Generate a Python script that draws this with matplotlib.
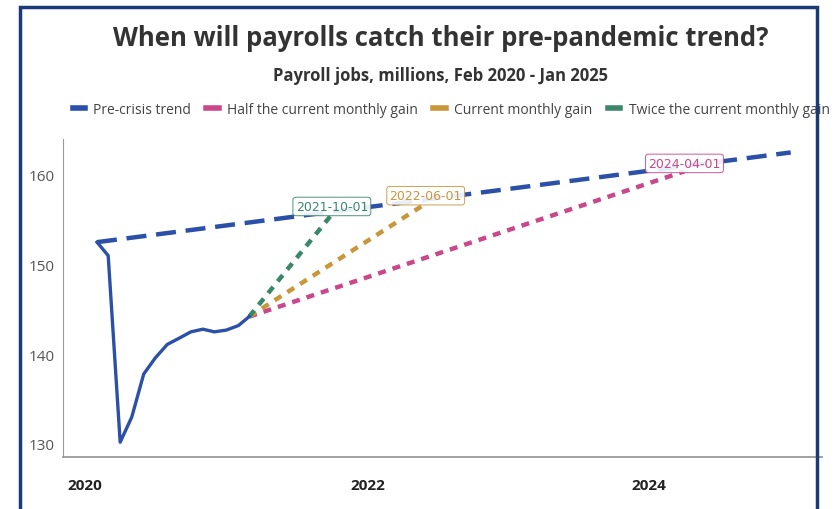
import datetime as dt
import matplotlib.pyplot as plt
import matplotlib.dates as mdates
from matplotlib.patches import Rectangle

plt.rcParams['font.family'] = ['Open Sans', 'DejaVu Sans']

# actual payrolls, millions
actual_dates = ["2020-02-01", "2020-03-01", "2020-04-01", "2020-05-01", "2020-06-01",
                "2020-07-01", "2020-08-01", "2020-09-01", "2020-10-01", "2020-11-01",
                "2020-12-01", "2021-01-01", "2021-02-01", "2021-03-01"]
actual_vals = [152.5, 151.0, 130.2, 133.0, 137.8, 139.6, 141.1, 141.8, 142.5, 142.8,
               142.5, 142.7, 143.2, 144.2]

trend_dates = ["2020-02-01", "2025-01-01"]
trend_vals = [152.5, 162.5]

# projections: name, end date, end value
proj_names = ["Half the current monthly gain", "Current monthly gain", "Twice the current monthly gain"]
proj_end_dates = ["2024-04-01", "2022-06-01", "2021-10-01"]
proj_end_vals = [160.4, 156.8, 155.6]

blue = "#2b50a8"
proj_colors = ["#c9478a", "#c8973c", "#3b876a"]

def d(s):
    return mdates.date2num(dt.datetime.strptime(s, "%Y-%m-%d"))

fig = plt.figure(figsize=(8.35, 5.1), dpi=100)
ax = fig.add_axes([63 / 835, 1 - 458 / 510, (822 - 63) / 835, (458 - 140) / 510])

ax.plot([d(s) for s in actual_dates], actual_vals, color=blue, lw=2.4, zorder=4,
        solid_joinstyle="round")
ax.plot([d(s) for s in trend_dates], trend_vals, color=blue, lw=3.2,
        dashes=(4.5, 2.2), zorder=3)

start_x = d(actual_dates[-1])
start_y = actual_vals[-1]
for name, ed, ev, c in zip(proj_names, proj_end_dates, proj_end_vals, proj_colors):
    ax.plot([start_x, d(ed)], [start_y, ev], color=c, lw=3.2, dashes=(1.8, 1.6), zorder=2)
    ax.annotate(ed, (d(ed), ev), xytext=(0, 1), textcoords="offset points",
                ha="center", va="bottom", fontsize=9, color=c, zorder=6,
                family=["Liberation Sans Narrow", "DejaVu Sans"],
                bbox=dict(boxstyle="round,pad=0.22", fc="white", ec=c, lw=0.7, alpha=0.9))

ax.set_xlim(d("2019-11-05"), d("2025-03-23"))
ax.set_ylim(128.55, 164.0)
ax.set_yticks([130, 140, 150, 160])
ax.set_xticks([d("2020-01-01"), d("2022-01-01"), d("2024-01-01")])
ax.set_xticklabels(["2020", "2022", "2024"], fontweight="bold", fontsize=11, color="#222")
ax.tick_params(axis="y", length=0, labelsize=11, labelcolor="#555", pad=6)
ax.tick_params(axis="x", length=0, pad=15)
for s in ["top", "right"]:
    ax.spines[s].set_visible(False)
ax.spines["left"].set_color("#999")
ax.spines["bottom"].set_color("#999")
ax.spines["bottom"].set_linewidth(1.3)

fig.text(0.528, 1 - 38 / 510, "When will payrolls catch their pre-pandemic trend?",
         ha="center", va="center", fontsize=18.5, fontweight="bold", color="#333")
fig.text(0.528, 1 - 76 / 510, "Payroll jobs, millions, Feb 2020 - Jan 2025",
         ha="center", va="center", fontsize=12, fontweight="bold", color="#333")

handles = [plt.Line2D([], [], color=c, lw=4) for c in [blue] + proj_colors]
labels = ["Pre-crisis trend"] + proj_names
fig.legend(handles, labels, loc="center left", bbox_to_anchor=(60 / 835, 1 - 110 / 510),
           ncol=4, frameon=False, fontsize=10, handlelength=0.9, handletextpad=0.6,
           columnspacing=1.1, labelcolor="#444")

fig.patches.append(Rectangle((20 / 835, -0.05), (817 - 20) / 835, 1.05 - 8 / 510,
                             transform=fig.transFigure, fill=False, ec="#1b3a78",
                             lw=2.5, zorder=10))

fig.savefig("out.png", dpi=100)
